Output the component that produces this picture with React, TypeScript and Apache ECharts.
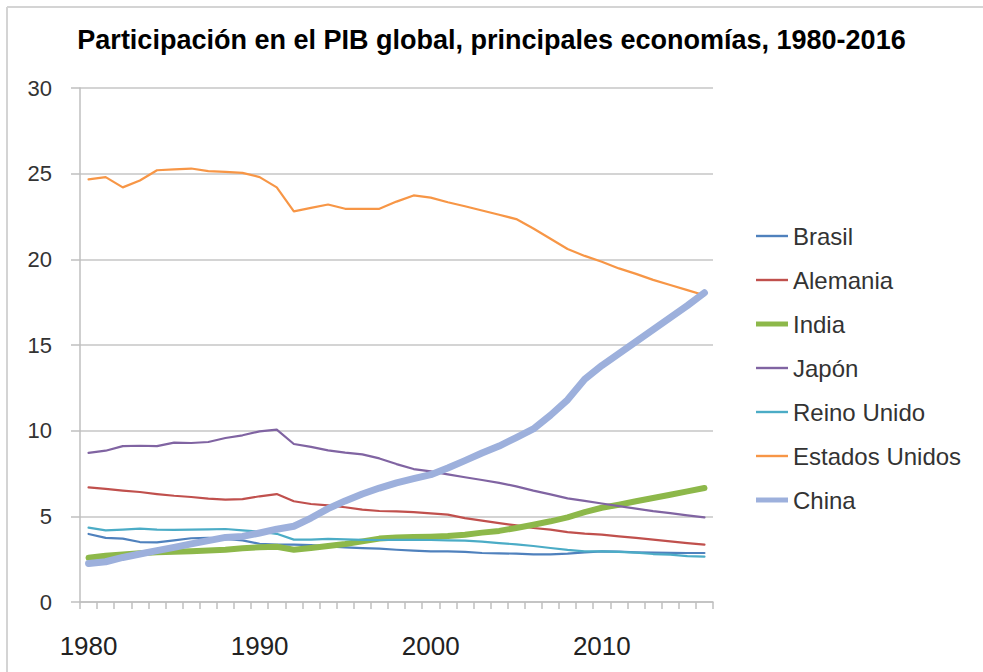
import React, { useEffect, useRef } from "react";
import * as echarts from "echarts";

const years = [
  "1980","1981","1982","1983","1984","1985","1986","1987","1988","1989",
  "1990","1991","1992","1993","1994","1995","1996","1997","1998","1999",
  "2000","2001","2002","2003","2004","2005","2006","2007","2008","2009",
  "2010","2011","2012","2013","2014","2015","2016",
];

const brasil = [3.97, 3.74, 3.70, 3.50, 3.48, 3.60, 3.72, 3.74, 3.68, 3.60, 3.40, 3.35,
  3.35, 3.32, 3.25, 3.19, 3.15, 3.12, 3.05, 3.00, 2.96, 2.95, 2.92, 2.86,
  2.84, 2.82, 2.78, 2.78, 2.82, 2.90, 2.96, 2.94, 2.90, 2.88, 2.87, 2.86, 2.86];

const alemania = [6.69, 6.60, 6.50, 6.42, 6.30, 6.20, 6.13, 6.03, 5.97, 6.00, 6.17, 6.30,
  5.88, 5.72, 5.64, 5.53, 5.39, 5.31, 5.29, 5.25, 5.17, 5.10, 4.90, 4.75,
  4.60, 4.47, 4.32, 4.22, 4.08, 3.99, 3.93, 3.83, 3.74, 3.64, 3.54, 3.44, 3.35];

const india = [2.58, 2.70, 2.78, 2.85, 2.90, 2.93, 2.96, 3.00, 3.05, 3.14, 3.20, 3.22,
  3.05, 3.15, 3.27, 3.39, 3.54, 3.70, 3.77, 3.79, 3.81, 3.85, 3.93, 4.05,
  4.15, 4.32, 4.51, 4.71, 4.94, 5.25, 5.50, 5.68, 5.88, 6.07, 6.26, 6.46, 6.65];

const japon = [8.70, 8.83, 9.10, 9.12, 9.10, 9.30, 9.28, 9.34, 9.57, 9.73, 9.96, 10.06,
  9.22, 9.05, 8.85, 8.72, 8.62, 8.38, 8.05, 7.76, 7.62, 7.45, 7.28, 7.12,
  6.95, 6.75, 6.50, 6.28, 6.05, 5.90, 5.75, 5.60, 5.45, 5.30, 5.19, 5.06, 4.94];

const reinoUnido = [4.34, 4.18, 4.22, 4.28, 4.22, 4.21, 4.22, 4.24, 4.26, 4.18, 4.10, 3.98,
  3.64, 3.64, 3.68, 3.66, 3.63, 3.62, 3.63, 3.63, 3.62, 3.60, 3.58, 3.52,
  3.44, 3.36, 3.27, 3.15, 3.04, 2.96, 2.96, 2.92, 2.88, 2.80, 2.76, 2.68, 2.65];

const estadosUnidos = [24.67, 24.80, 24.20, 24.60, 25.20, 25.25, 25.30, 25.15, 25.10, 25.05, 24.80, 24.20,
  22.80, 23.00, 23.20, 22.95, 22.95, 22.95, 23.37, 23.73, 23.60, 23.33, 23.10, 22.85,
  22.60, 22.35, 21.80, 21.20, 20.60, 20.20, 19.86, 19.47, 19.15, 18.80, 18.50, 18.20, 17.90];

const china = [2.25, 2.35, 2.60, 2.80, 3.00, 3.19, 3.39, 3.58, 3.77, 3.83, 4.03, 4.25,
  4.42, 4.90, 5.45, 5.90, 6.30, 6.65, 6.95, 7.20, 7.43, 7.82, 8.25, 8.70,
  9.10, 9.60, 10.10, 10.90, 11.80, 13.00, 13.80, 14.50, 15.20, 15.90, 16.60, 17.30, 18.05];

const seriesNames = ["Brasil", "Alemania", "India", "Japón", "Reino Unido", "Estados Unidos", "China"];
const seriesData = [brasil, alemania, india, japon, reinoUnido, estadosUnidos, china];
const seriesColors = ["#4F81BD", "#C0504D", "#8DB84A", "#8064A2", "#4BACC6", "#F79646", "#9DB0DC"];
const seriesWidths = [2.2, 2.2, 6, 2.2, 2.2, 2.2, 7];

const titleText = "Participación en el PIB global, principales economías, 1980-2016";
const FONT = "'Liberation Sans', Arial, sans-serif";

export default function App() {
  const ref = useRef<HTMLDivElement>(null);

  useEffect(() => {
    if (!ref.current) return;
    const chart = echarts.init(ref.current, null, { renderer: "svg" });
    chart.setOption({
      animation: false,
      backgroundColor: "#ffffff",
      title: {
        text: titleText,
        left: "center",
        top: 21,
        textStyle: { fontFamily: FONT, fontSize: 27, fontWeight: "bold", color: "#000" },
      },
      legend: {
        orient: "vertical",
        left: 751,
        top: 219,
        itemWidth: 32,
        itemHeight: 8,
        itemGap: 20,
        symbolKeepAspect: true,
        data: seriesNames.map((name, i) => ({
          name,
          icon: seriesWidths[i] > 3 ? "path://M0 0H32V5H0Z" : "path://M0 0H32V2.4H0Z",
        })),
        textStyle: { fontFamily: FONT, fontSize: 24, color: "#333", lineHeight: 24 },
      },
      grid: { left: 80, right: 270, top: 88, bottom: 70, containLabel: false },
      xAxis: {
        type: "category",
        data: years,
        boundaryGap: true,
        axisLine: { show: true, lineStyle: { color: "#bfbfbf", width: 1.5 } },
        axisTick: { show: true, interval: 0, length: 7, lineStyle: { color: "#bfbfbf", width: 1.5 } },
        axisLabel: { interval: 9, fontFamily: FONT, fontSize: 26, color: "#222", margin: 31 },
        splitLine: { show: false },
      },
      yAxis: {
        type: "value",
        min: 0,
        max: 30,
        interval: 5,
        axisLine: { show: true, lineStyle: { color: "#bfbfbf", width: 1.5 } },
        axisTick: { show: true, length: 9, lineStyle: { color: "#bfbfbf", width: 1.5 } },
        axisLabel: { fontFamily: FONT, fontSize: 22, color: "#333", margin: 28 },
        splitLine: { show: true, lineStyle: { color: "#c6c6c6", width: 1.5 } },
      },
      series: seriesNames.map((name, i) => ({
        name,
        type: "line",
        data: seriesData[i],
        symbol: "none",
        smooth: false,
        color: seriesColors[i],
        itemStyle: { color: seriesColors[i] },
        lineStyle: { color: seriesColors[i], width: seriesWidths[i], cap: "round", join: "round" },
      })),
      graphic: [
        { type: "line", shape: { x1: 7, y1: 7, x2: 983, y2: 7 }, style: { stroke: "#d4d4d4", lineWidth: 2 } },
        { type: "line", shape: { x1: 7, y1: 7, x2: 7, y2: 672 }, style: { stroke: "#d4d4d4", lineWidth: 2 } },
      ],
    });
    return () => chart.dispose();
  }, []);

  return (
    <div
      ref={ref}
      style={{ position: "absolute", left: 0, top: 0, width: 983, height: 672 }}
    />
  );
}
